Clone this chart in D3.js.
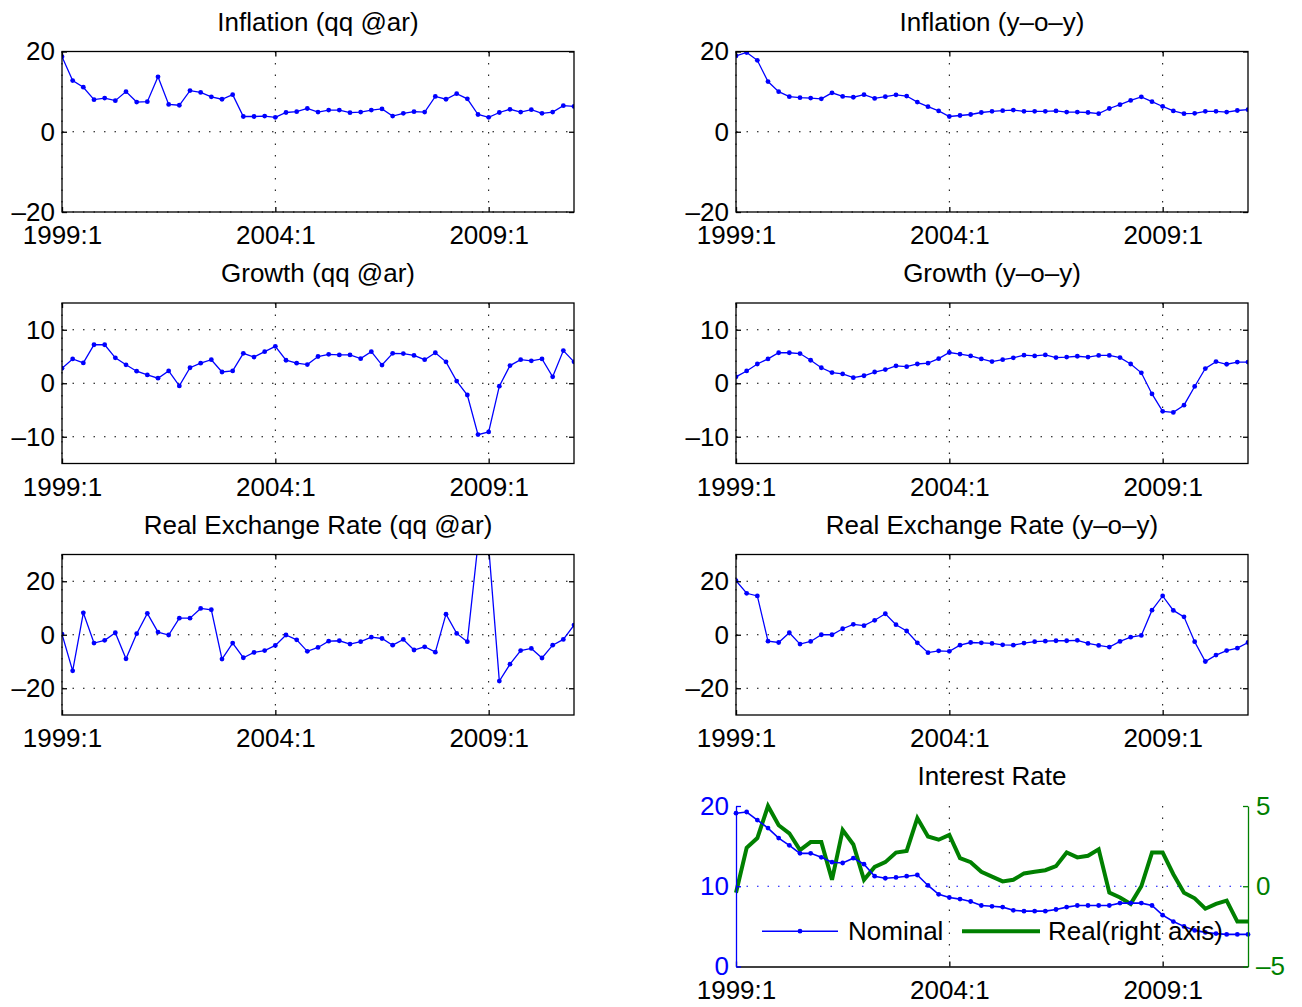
<!DOCTYPE html>
<html>
<head>
<meta charset="utf-8">
<script src="https://cdn.jsdelivr.net/npm/d3@7"></script>
<style>
  body { margin: 0; background: #fff; }
  text { font-family: "Liberation Sans", Arial, sans-serif; }
</style>
</head>
<body>
<div id="chart"></div>
<script>
// quarterly data 1999:1 .. 2011:1
var xTicks = [0, 20, 40];
var xTickLabels = ["1999:1", "2004:1", "2009:1"];

var inflQQ = [18.7,12.75,11.1,8.0,8.4,7.75,10.0,7.4,7.5,13.7,6.8,6.6,10.25,9.8,8.7,8.1,9.25,3.8,3.8,3.9,3.6,4.8,5.0,5.8,4.9,5.4,5.4,4.75,4.9,5.4,5.7,3.9,4.6,5.0,4.9,8.8,8.1,9.5,8.2,4.3,3.6,4.8,5.6,4.9,5.5,4.6,4.9,6.5,6.3];
var inflYoY = [18.9,19.75,17.8,12.5,10.0,8.75,8.5,8.4,8.2,9.7,8.8,8.6,9.25,8.3,8.75,9.2,8.9,7.4,6.25,5.2,3.8,4.05,4.3,4.8,5.1,5.25,5.4,5.1,5.1,5.1,5.2,4.9,4.9,4.8,4.5,5.8,6.75,7.8,8.7,7.5,6.3,5.2,4.5,4.6,5.1,5.1,4.9,5.3,5.5];
var growthQQ = [2.8,4.55,3.8,7.2,7.2,4.75,3.45,2.25,1.55,0.95,2.3,-0.5,2.9,3.75,4.4,2.1,2.3,5.6,4.9,5.9,6.9,4.3,3.75,3.5,5.0,5.4,5.3,5.3,4.6,5.9,3.4,5.6,5.55,5.2,4.4,5.7,4.0,0.4,-2.2,-9.6,-9.1,-0.55,3.3,4.4,4.2,4.55,1.2,6.1,4.0];
var growthYoY = [1.2,2.3,3.6,4.55,5.7,5.7,5.55,4.3,2.9,2.0,1.75,1.05,1.4,2.1,2.55,3.25,3.1,3.6,3.75,4.6,5.75,5.45,5.1,4.55,4.05,4.4,4.75,5.25,5.1,5.3,4.8,4.9,5.05,4.9,5.2,5.2,4.8,3.6,1.95,-2.0,-5.25,-5.45,-4.1,-0.6,2.75,4.05,3.55,3.95,3.95];
var rerQQ = [0.25,-13.5,8.2,-3.1,-2.1,0.75,-9.0,0.4,8.0,1.0,-0.1,6.2,6.2,9.85,9.35,-9.1,-3.1,-8.6,-6.6,-5.9,-4.0,-0.1,-1.9,-6.2,-4.75,-2.4,-2.25,-3.5,-2.6,-0.9,-1.4,-3.9,-1.75,-5.7,-4.5,-6.5,7.7,0.5,-2.6,34,33,-17.3,-11.0,-5.9,-5.1,-8.7,-3.9,-1.75,3.6];
var rerYoY = [20.2,15.5,14.5,-2.4,-2.9,0.75,-3.5,-2.5,0,0,2.25,3.9,3.4,5.4,7.85,3.75,1.4,-3.0,-6.7,-6.0,-6.2,-3.9,-2.9,-3.0,-3.25,-3.75,-3.9,-3.1,-2.6,-2.4,-2.25,-2.25,-2.1,-3.25,-4.0,-4.6,-2.5,-0.9,-0.25,9.2,14.5,9.1,6.7,-2.6,-10.0,-7.6,-5.9,-5.0,-2.9];
var rateNominal = [19.1,19.25,18.25,17.25,16,15.1,14.1,14.1,13.6,13,12.9,13.5,12.75,11.25,11,11.1,11.25,11.4,10.1,9,8.6,8.4,8.1,7.6,7.5,7.4,7,6.9,6.9,6.9,7.1,7.4,7.6,7.6,7.6,7.6,7.9,7.9,7.9,7.6,6.4,5.6,5,4.5,4.25,4.1,4,4,4];
var rateReal = [-0.4,2.4,3,5,3.8,3.3,2.25,2.75,2.75,0.4,3.5,2.6,0.4,1.2,1.5,2.1,2.2,4.25,3.1,2.9,3.2,1.75,1.5,0.9,0.6,0.3,0.4,0.8,0.9,1.0,1.25,2.1,1.8,1.9,2.3,-0.4,-0.7,-1.1,0,2.1,2.1,0.75,-0.4,-0.75,-1.4,-1.1,-0.9,-2.2,-2.2];

var svgWidth = 1302;
var svgHeight = 1007;
var fontSize = 26;
var colLeft = [62, 736];
var rowTop = [51.5, 303, 554.5, 806];
var plotW = 512;
var plotH = 160.5;

var svg = d3.select("#chart")
  .append("svg")
  .attr("width", svgWidth)
  .attr("height", svgHeight);

var clipN = 0;

function fmtMinus(d) { return d < 0 ? "\u2013" + Math.abs(d) : d; }

function drawPanel(col, row, title, values, yDomain, yTicks) {
  var g = svg.append("g")
    .attr("transform", `translate(${colLeft[col]}, ${rowTop[row]})`);

  var x = d3.scaleLinear().domain([0, 48]).range([0, plotW]);
  var y = d3.scaleLinear().domain(yDomain).range([plotH, 0]);

  // dotted grid
  g.selectAll(".hgrid").data(yTicks).enter().append("line")
    .attr("x1", 0).attr("x2", plotW)
    .attr("y1", d => y(d)).attr("y2", d => y(d))
    .attr("stroke", "#000").attr("stroke-width", 1)
    .attr("stroke-dasharray", "1.5,9");
  g.selectAll(".vgrid").data(xTicks).enter().append("line")
    .attr("x1", d => x(d)).attr("x2", d => x(d))
    .attr("y1", 0).attr("y2", plotH)
    .attr("stroke", "#000").attr("stroke-width", 1)
    .attr("stroke-dasharray", "1.5,10");

  clipN++;
  g.append("clipPath").attr("id", "clip" + clipN)
    .append("rect").attr("width", plotW).attr("height", plotH);

  var line = d3.line().x((d, i) => x(i)).y(d => y(d));
  var plot = g.append("g").attr("clip-path", `url(#clip${clipN})`);
  plot.append("path")
    .datum(values)
    .attr("d", line)
    .attr("fill", "none")
    .attr("stroke", "#0000ff")
    .attr("stroke-width", 1.3);
  plot.selectAll("circle").data(values).enter().append("circle")
    .attr("cx", (d, i) => x(i))
    .attr("cy", d => y(d))
    .attr("r", 2.4)
    .attr("fill", "#0000ff");

  // box + ticks
  g.append("rect")
    .attr("width", plotW).attr("height", plotH)
    .attr("fill", "none").attr("stroke", "#000").attr("stroke-width", 1.3);

  var bottomAxis = d3.axisBottom(x).tickValues(xTicks).tickFormat((d, i) => xTickLabels[i])
    .tickSizeInner(-5).tickSizeOuter(0).tickPadding(14);
  var topAxis = d3.axisTop(x).tickValues(xTicks).tickFormat("").tickSizeInner(-5).tickSizeOuter(0);
  var leftAxis = d3.axisLeft(y).tickValues(yTicks).tickFormat(fmtMinus)
    .tickSizeInner(-5).tickSizeOuter(0).tickPadding(7);
  var rightAxis = d3.axisRight(y).tickValues(yTicks).tickFormat("").tickSizeInner(-5).tickSizeOuter(0);

  var ax = [
    g.append("g").attr("transform", `translate(0, ${plotH})`).call(bottomAxis),
    g.append("g").call(topAxis),
    g.append("g").call(leftAxis),
    g.append("g").attr("transform", `translate(${plotW}, 0)`).call(rightAxis)
  ];
  ax.forEach(a => {
    a.select(".domain").remove();
    a.selectAll("line").attr("stroke", "#000").attr("stroke-width", 1.3);
    a.selectAll("text").attr("font-size", fontSize).attr("fill", "#000")
      .attr("font-family", "Liberation Sans, Arial, sans-serif");
  });

  g.append("text")
    .attr("x", plotW / 2).attr("y", -21)
    .attr("text-anchor", "middle")
    .attr("font-size", fontSize)
    .text(title);
}

drawPanel(0, 0, "Inflation (qq @ar)", inflQQ, [-20, 20], [-20, 0, 20]);
drawPanel(1, 0, "Inflation (y\u2013o\u2013y)", inflYoY, [-20, 20], [-20, 0, 20]);
drawPanel(0, 1, "Growth (qq @ar)", growthQQ, [-15, 15], [-10, 0, 10]);
drawPanel(1, 1, "Growth (y\u2013o\u2013y)", growthYoY, [-15, 15], [-10, 0, 10]);
drawPanel(0, 2, "Real Exchange Rate (qq @ar)", rerQQ, [-30, 30], [-20, 0, 20]);
drawPanel(1, 2, "Real Exchange Rate (y\u2013o\u2013y)", rerYoY, [-30, 30], [-20, 0, 20]);

// Interest rate, two y axes
(function() {
  var blue = "#0000ff", green = "#008000";
  var g = svg.append("g")
    .attr("transform", `translate(${colLeft[1]}, ${rowTop[3]})`);
  var x = d3.scaleLinear().domain([0, 48]).range([0, plotW]);
  var yL = d3.scaleLinear().domain([0, 20]).range([plotH, 0]);
  var yR = d3.scaleLinear().domain([-5, 5]).range([plotH, 0]);

  g.selectAll(".hgrid").data([10]).enter().append("line")
    .attr("x1", 0).attr("x2", plotW)
    .attr("y1", d => yL(d)).attr("y2", d => yL(d))
    .attr("stroke", blue).attr("stroke-dasharray", "1.5,9");
  g.selectAll(".vgrid").data(xTicks.slice(1)).enter().append("line")
    .attr("x1", d => x(d)).attr("x2", d => x(d))
    .attr("y1", 0).attr("y2", plotH)
    .attr("stroke", "#000").attr("stroke-dasharray", "1.5,10");

  g.append("path").datum(rateReal)
    .attr("d", d3.line().x((d, i) => x(i)).y(d => yR(d)))
    .attr("fill", "none").attr("stroke", green).attr("stroke-width", 4)
    .attr("stroke-linejoin", "miter");

  g.append("path").datum(rateNominal)
    .attr("d", d3.line().x((d, i) => x(i)).y(d => yL(d)))
    .attr("fill", "none").attr("stroke", blue).attr("stroke-width", 1.6);
  g.selectAll(".dot").data(rateNominal).enter().append("circle")
    .attr("cx", (d, i) => x(i)).attr("cy", d => yL(d))
    .attr("r", 2.4).attr("fill", blue);

  var bottomAxis = d3.axisBottom(x).tickValues(xTicks).tickFormat((d, i) => xTickLabels[i])
    .tickSizeInner(-5).tickSizeOuter(0).tickPadding(14);
  var leftAxis = d3.axisLeft(yL).tickValues([0, 10, 20]).tickSizeInner(-5).tickSizeOuter(0).tickPadding(7);
  var rightAxis = d3.axisRight(yR).tickValues([-5, 0, 5])
    .tickFormat(fmtMinus)
    .tickSizeInner(-5).tickSizeOuter(0).tickPadding(8);

  var bx = g.append("g").attr("transform", `translate(0, ${plotH})`).call(bottomAxis);
  var lx = g.append("g").call(leftAxis);
  var rx = g.append("g").attr("transform", `translate(${plotW}, 0)`).call(rightAxis);
  [[bx, "#000"], [lx, blue], [rx, green]].forEach(p => {
    p[0].select(".domain").attr("stroke", p[1]).attr("stroke-width", 1.3);
    p[0].selectAll("line").attr("stroke", p[1]).attr("stroke-width", 1.3);
    p[0].selectAll("text").attr("font-size", fontSize).attr("fill", p[1])
      .attr("font-family", "Liberation Sans, Arial, sans-serif");
  });

  g.append("text")
    .attr("x", plotW / 2).attr("y", -21)
    .attr("text-anchor", "middle")
    .attr("font-size", fontSize)
    .text("Interest Rate");

  // legend (no box)
  var leg = g.append("g").attr("transform", `translate(0, ${yL(4.4)})`);
  leg.append("line").attr("x1", 26).attr("x2", 102).attr("stroke", blue).attr("stroke-width", 1.6);
  leg.append("circle").attr("cx", 64).attr("r", 2.4).attr("fill", blue);
  leg.append("text").attr("x", 112).attr("dy", "0.35em").attr("font-size", fontSize).text("Nominal");
  leg.append("line").attr("x1", 226).attr("x2", 304).attr("stroke", green).attr("stroke-width", 4);
  leg.append("text").attr("x", 312).attr("dy", "0.35em").attr("font-size", fontSize).text("Real(right axis)");
})();
</script>
</body>
</html>
